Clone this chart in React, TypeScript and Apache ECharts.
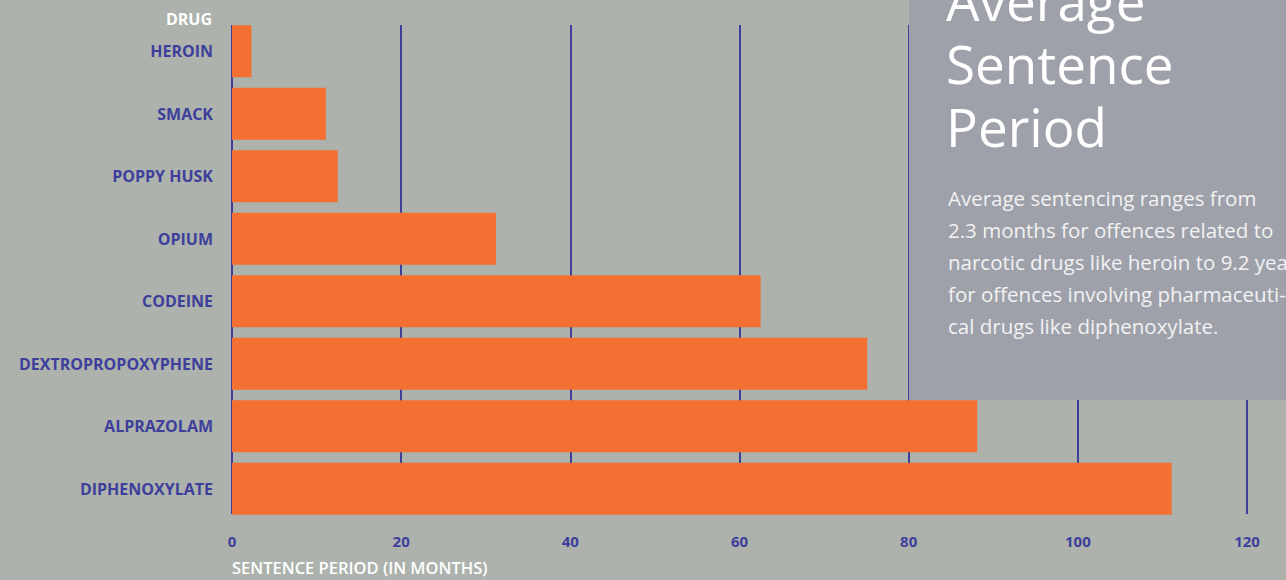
import React, { useEffect, useRef } from "react";
import * as echarts from "echarts";

const drugs = ["HEROIN", "SMACK", "POPPY HUSK", "OPIUM", "CODEINE", "DEXTROPROPOXYPHENE", "ALPRAZOLAM", "DIPHENOXYLATE"];
const months = [2.3, 11.1, 12.5, 31.2, 62.5, 75.1, 88.1, 111.1];
const titleLines = ["Average", "Sentence", "Period"];
const bodyLines = [
  "Average sentencing ranges from",
  "2.3 months for offences related to",
  "narcotic drugs like heroin to 9.2 years",
  "for offences involving pharmaceuti-",
  "cal drugs like diphenoxylate.",
];

const BLUE = "#3d3f9b";
const FONT = "'Open Sans', 'Noto Sans', sans-serif";

export default function App() {
  const ref = useRef<HTMLDivElement>(null);
  useEffect(() => {
    if (!ref.current) return;
    const chart = echarts.init(ref.current, null, { renderer: "svg" });
    const graphics: any[] = [
      { type: "rect", z: 10, shape: { x: 909, y: 0, width: 377, height: 400 }, style: { fill: "#9ea1aa" } },
      {
        type: "text", z: 11, x: 946, y: 158,
        style: { text: titleLines.join("\n"), fill: "#ffffff", font: `400 53px ${FONT}`, lineHeight: 63, verticalAlign: "bottom" },
      },
      {
        type: "text", z: 11, x: 948, y: 182,
        style: { text: bodyLines.join("\n"), fill: "#f2f2f2", font: `400 20.5px ${FONT}`, lineHeight: 32, verticalAlign: "top" },
      },
      {
        type: "text", z: 11, x: 212, y: 19,
        style: { text: "DRUG", fill: "#ffffff", font: `700 16px ${FONT}`, align: "right", verticalAlign: "middle" },
      },
      {
        type: "text", z: 11, x: 232, y: 567,
        style: { text: "SENTENCE PERIOD (IN MONTHS)", fill: "#ffffff", font: `600 16.5px ${FONT}`, verticalAlign: "middle" },
      },
    ];
    chart.setOption({
      animation: false,
      backgroundColor: "#adb2ad",
      grid: [
        { left: 232, right: 39, top: 20, bottom: 60, containLabel: false },
        { left: 232, right: 39, top: 25, bottom: 66, containLabel: false },
      ],
      xAxis: [
        {
          type: "value", min: 0, max: 120, interval: 20, gridIndex: 0,
          axisLine: { show: false }, axisTick: { show: false },
          axisLabel: { color: BLUE, fontFamily: FONT, fontWeight: 700, fontSize: 15, margin: 13 },
          splitLine: { show: false },
        },
        {
          type: "value", min: 0, max: 120, interval: 20, gridIndex: 1,
          axisLine: { show: false }, axisTick: { show: false }, axisLabel: { show: false },
          splitLine: { show: true, lineStyle: { color: BLUE, width: 2 } },
        },
      ],
      yAxis: [
        {
          type: "category", data: drugs, inverse: true, gridIndex: 0,
          axisLine: { show: false }, axisTick: { show: false },
          axisLabel: { color: BLUE, fontFamily: FONT, fontWeight: 700, fontSize: 16, margin: 19 },
        },
        {
          type: "value", min: 0, max: 1, gridIndex: 1, show: false,
          splitLine: { show: false },
        },
      ],
      series: [{
        type: "bar", data: months, barCategoryGap: "17%", xAxisIndex: 0, yAxisIndex: 0,
        itemStyle: { color: "#f37032" },
      }],
      graphic: graphics,
    });
    return () => chart.dispose();
  }, []);
  return <div ref={ref} style={{ position: "fixed", left: 0, top: 0, width: 1286, height: 580 }} />;
}
